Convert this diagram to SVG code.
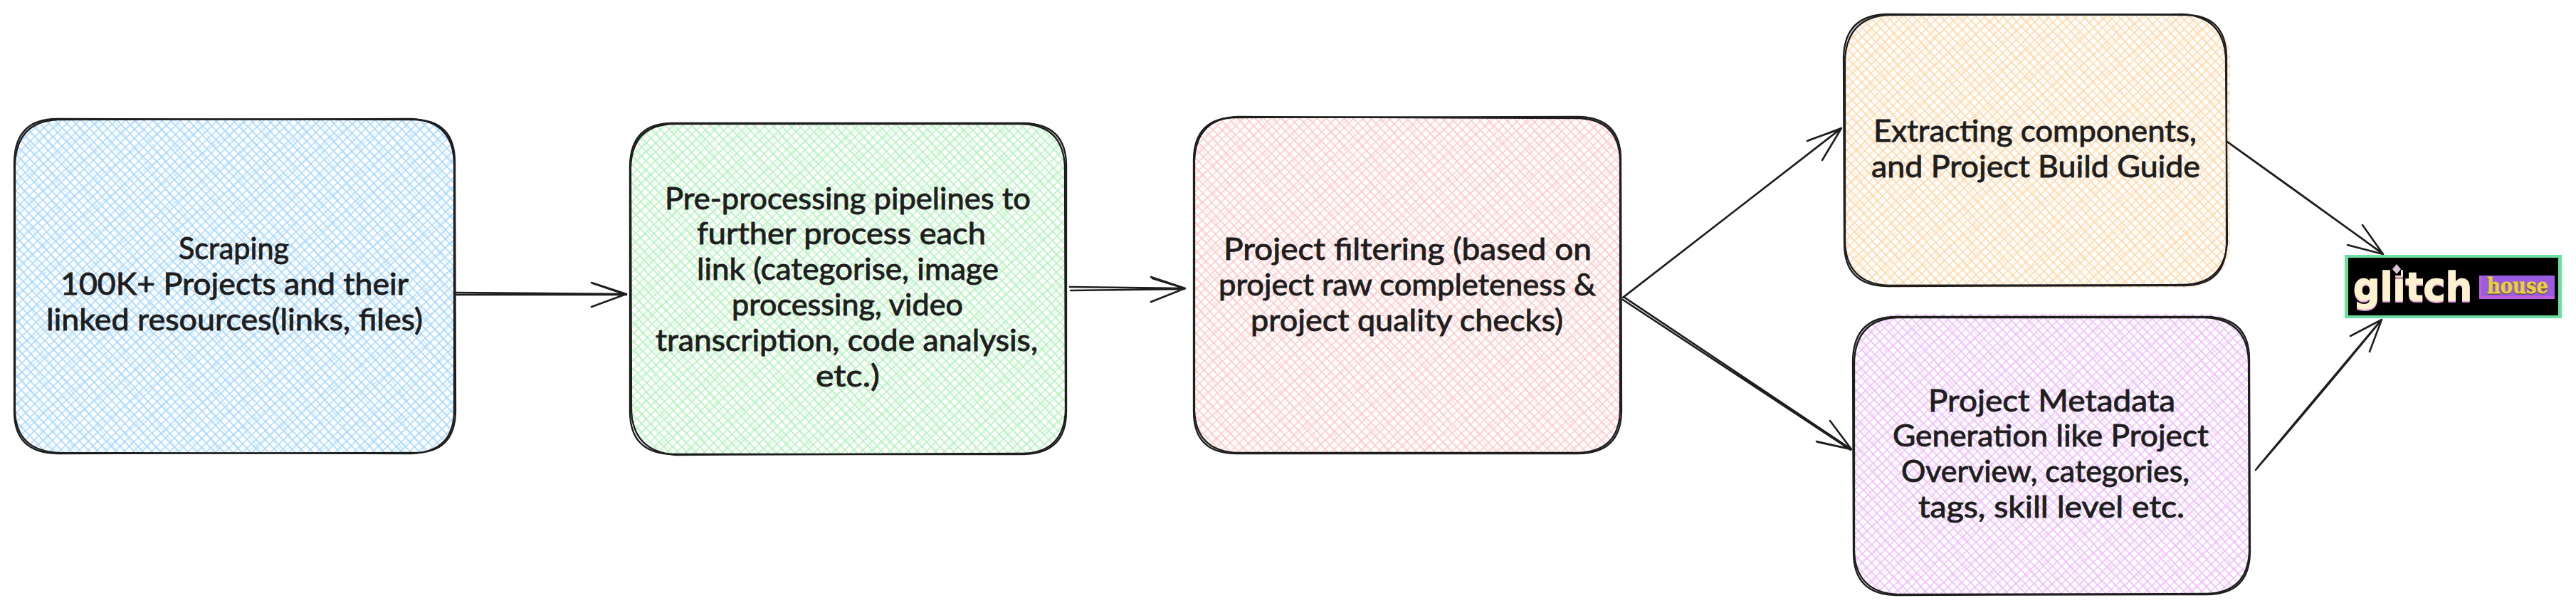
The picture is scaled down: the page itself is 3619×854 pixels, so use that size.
<svg xmlns="http://www.w3.org/2000/svg" width="3619" height="854" viewBox="0 0 3619 854">
<style>
.o{fill:none;stroke:#1e1e1e;stroke-width:2.3;stroke-linecap:round;stroke-linejoin:round}
.c{fill:none;stroke:#1e1e1e;stroke-width:2.6;stroke-linecap:round;stroke-linejoin:round}
.t{font-family:"Lato","Noto Sans",sans-serif;font-size:43px;fill:#1e1e1e;stroke:#1e1e1e;stroke-width:.9}
</style>
<defs>
<pattern id="hb" width="9" height="9" patternUnits="userSpaceOnUse" patternTransform="rotate(-44)"><path d="M0 1H9M1 0V9" fill="none" stroke="#a5d8ff" stroke-width="1.7"/></pattern>
<pattern id="hg" width="9" height="9" patternUnits="userSpaceOnUse" patternTransform="rotate(-44)"><path d="M0 1H9M1 0V9" fill="none" stroke="#b2f2bb" stroke-width="1.7"/></pattern>
<pattern id="hr" width="9" height="9" patternUnits="userSpaceOnUse" patternTransform="rotate(-44)"><path d="M0 1H9M1 0V9" fill="none" stroke="#ffc9c9" stroke-width="1.7"/></pattern>
<pattern id="ho" width="9" height="9" patternUnits="userSpaceOnUse" patternTransform="rotate(-44)"><path d="M0 1H9M1 0V9" fill="none" stroke="#ffd8a8" stroke-width="1.7"/></pattern>
<pattern id="hp" width="9" height="9" patternUnits="userSpaceOnUse" patternTransform="rotate(-44)"><path d="M0 1H9M1 0V9" fill="none" stroke="#eebefa" stroke-width="1.7"/></pattern>
<pattern id="hb2" width="23" height="31" patternUnits="userSpaceOnUse" patternTransform="rotate(-37)"><path d="M0 3H23M3 0V31" fill="none" stroke="#a5d8ff" stroke-width=".8"/></pattern>
<pattern id="hg2" width="23" height="31" patternUnits="userSpaceOnUse" patternTransform="rotate(-37)"><path d="M0 3H23M3 0V31" fill="none" stroke="#b2f2bb" stroke-width=".8"/></pattern>
<pattern id="hr2" width="23" height="31" patternUnits="userSpaceOnUse" patternTransform="rotate(-37)"><path d="M0 3H23M3 0V31" fill="none" stroke="#ffc9c9" stroke-width=".8"/></pattern>
<pattern id="ho2" width="23" height="31" patternUnits="userSpaceOnUse" patternTransform="rotate(-37)"><path d="M0 3H23M3 0V31" fill="none" stroke="#ffd8a8" stroke-width=".8"/></pattern>
<pattern id="hp2" width="23" height="31" patternUnits="userSpaceOnUse" patternTransform="rotate(-37)"><path d="M0 3H23M3 0V31" fill="none" stroke="#eebefa" stroke-width=".8"/></pattern>
</defs>
<rect width="3619" height="854" fill="#ffffff"/>
<g id="connectors">
<path class="c" d="M641 411L880 413M641 414L879 414M831 397L880 413L831 431M833 398L880 414"/>
<path class="c" d="M1503 403L1665 405M1504 408L1664 406M1617 389L1665 405L1617 424M1619 391L1664 405"/>
<path class="c" d="M2280 418L2587 180M2281 417L2586 181M2539 198L2587 180L2560 225M2541 197L2586 181"/>
<path class="c" d="M2281 417L2601 631M2280 421L2600 632M2571 591L2601 631L2552 620M2554 621L2600 631"/>
<path class="c" d="M3129 199Q3240 278 3348 357M3130 200L3346 355M3319 316L3348 357L3298 344"/>
<path class="c" d="M3169 660Q3262 552 3346 449M3172 656L3344 451M3302 472L3346 449L3329 494"/>
</g>
<g id="node-scraping">
<rect x="20" y="167" width="619" height="470" rx="60" fill="url(#hb)"/>
<rect x="20" y="167" width="619" height="470" rx="60" fill="url(#hb2)"/>
<path class="o" d="M80 167L580 168Q639 168 639 228L640 578Q639 637 580 636L80 637Q20 636 20 578L20 228Q21 167 80 167Z"/>
<path class="o" d="M82 168L578 167Q637 170 638 230L638 576Q638 635 578 637L84 636Q22 634 21 576L21 230Q24 170 82 168Z"/>
<text class="t" x="251" y="364" textLength="155" lengthAdjust="spacingAndGlyphs">Scraping</text>
<text class="t" x="85" y="414" textLength="489" lengthAdjust="spacingAndGlyphs">100K+ Projects and their</text>
<text class="t" x="65" y="464" textLength="529" lengthAdjust="spacingAndGlyphs">linked resources(links, files)</text>
</g>
<g id="node-preprocessing">
<rect x="885" y="173" width="613" height="465" rx="60" fill="url(#hg)"/>
<rect x="885" y="173" width="613" height="465" rx="60" fill="url(#hg2)"/>
<path class="o" d="M945 173L1438 173Q1498 174 1498 233L1498 578Q1498 637 1438 638L945 638Q885 637 885 578L885 233Q886 173 945 173Z"/>
<path class="o" d="M947 174L1436 174Q1494 176 1496 235L1497 576Q1495 636 1436 637L949 639Q889 634 887 576L886 235Q888 175 947 174Z"/>
<text class="t" x="934" y="294" textLength="514" lengthAdjust="spacingAndGlyphs">Pre-processing pipelines to</text>
<text class="t" x="979" y="343" textLength="406" lengthAdjust="spacingAndGlyphs">further process each</text>
<text class="t" x="979" y="393" textLength="424" lengthAdjust="spacingAndGlyphs">link (categorise, image</text>
<text class="t" x="1028" y="443" textLength="325" lengthAdjust="spacingAndGlyphs">processing, video</text>
<text class="t" x="921" y="493" textLength="537" lengthAdjust="spacingAndGlyphs">transcription, code analysis,</text>
<text class="t" x="1146" y="543" textLength="90" lengthAdjust="spacingAndGlyphs">etc.)</text>
</g>
<g id="node-filtering">
<rect x="1677" y="164" width="600" height="473" rx="60" fill="url(#hr)"/>
<rect x="1677" y="164" width="600" height="473" rx="60" fill="url(#hr2)"/>
<path class="o" d="M1737 165L2217 164Q2277 165 2277 224L2278 578Q2277 637 2217 637L1737 637Q1677 637 1677 578L1677 224Q1678 165 1737 165Z"/>
<path class="o" d="M1739 164L2215 166Q2275 167 2276 226L2276 576Q2275 635 2215 636L1739 636Q1680 634 1678 576L1678 226Q1680 166 1739 164Z"/>
<text class="t" x="1719" y="365" textLength="517" lengthAdjust="spacingAndGlyphs">Project filtering (based on</text>
<text class="t" x="1712" y="415" textLength="530" lengthAdjust="spacingAndGlyphs">project raw completeness &amp;</text>
<text class="t" x="1757" y="465" textLength="439" lengthAdjust="spacingAndGlyphs">project quality checks)</text>
</g>
<g id="node-extracting">
<rect x="2592" y="21" width="541" height="383" rx="60" fill="url(#ho)"/>
<rect x="2592" y="21" width="541" height="383" rx="60" fill="url(#ho2)"/>
<path class="o" d="M2651 20L3068 21Q3127 20 3128 80L3128 342Q3127 401 3068 401L2651 402Q2591 401 2591 342L2590 80Q2592 21 2651 20Z"/>
<path class="o" d="M2653 21L3066 20Q3124 23 3127 82L3129 340Q3125 399 3066 400L2653 401Q2594 398 2592 340L2592 82Q2596 24 2653 21Z"/>
<text class="t" x="2632" y="199" textLength="454" lengthAdjust="spacingAndGlyphs">Extracting components,</text>
<text class="t" x="2629" y="249" textLength="462" lengthAdjust="spacingAndGlyphs">and Project Build Guide</text>
</g>
<g id="node-metadata">
<rect x="2605" y="441" width="556" height="394" rx="60" fill="url(#hp)"/>
<rect x="2605" y="441" width="556" height="394" rx="60" fill="url(#hp2)"/>
<path class="o" d="M2664 445L3100 445Q3160 446 3160 505L3161 776Q3160 835 3100 835L2664 836Q2604 835 2604 776L2603 505Q2605 445 2664 445Z"/>
<path class="o" d="M2666 446L3098 446Q3157 449 3159 507L3160 774Q3158 833 3098 834L2666 835Q2607 832 2605 774L2605 507Q2608 448 2666 446Z"/>
<text class="t" x="2709" y="578" textLength="347" lengthAdjust="spacingAndGlyphs">Project Metadata</text>
<text class="t" x="2659" y="627" textLength="444" lengthAdjust="spacingAndGlyphs">Generation like Project</text>
<text class="t" x="2671" y="677" textLength="405" lengthAdjust="spacingAndGlyphs">Overview, categories,</text>
<text class="t" x="2695" y="727" textLength="374" lengthAdjust="spacingAndGlyphs">tags, skill level etc.</text>
</g>
<g id="node-logo">
<rect x="3294" y="358" width="305" height="89" fill="#69e0a0"/>
<rect x="3299" y="362" width="295" height="81" fill="#000000"/>
<text x="3306" y="423.500" textLength="167" lengthAdjust="spacingAndGlyphs" font-family="'DejaVu Sans',sans-serif" font-weight="700" font-size="56" fill="#e9a6e0" stroke="#e9a6e0" stroke-width="1.4">glitch</text>
<text x="3306" y="422" textLength="167" lengthAdjust="spacingAndGlyphs" font-family="'DejaVu Sans',sans-serif" font-weight="700" font-size="56" fill="#fdf1d0" stroke="#fdf1d0" stroke-width="1.4">glitch</text>
<rect x="3362" y="379" width="11" height="8" fill="#000000"/>
<path d="M3367 371L3373 378L3367 385L3361 378Z" fill="#d9c3d6"/>
<rect x="3483" y="387" width="106" height="33" fill="#c060e0"/>
<rect x="3486" y="387" width="103" height="29" fill="#9a5ce0"/>
<text x="3494" y="413" textLength="86" lengthAdjust="spacingAndGlyphs" font-family="'DejaVu Serif',serif" font-weight="700" font-size="30" fill="#4a3a20" stroke="#4a3a20" stroke-width="1">house</text>
<text x="3494" y="412" textLength="86" lengthAdjust="spacingAndGlyphs" font-family="'DejaVu Serif',serif" font-weight="700" font-size="30" fill="#e8d040" stroke="#e8d040" stroke-width=".8">house</text>
</g>
</svg>
